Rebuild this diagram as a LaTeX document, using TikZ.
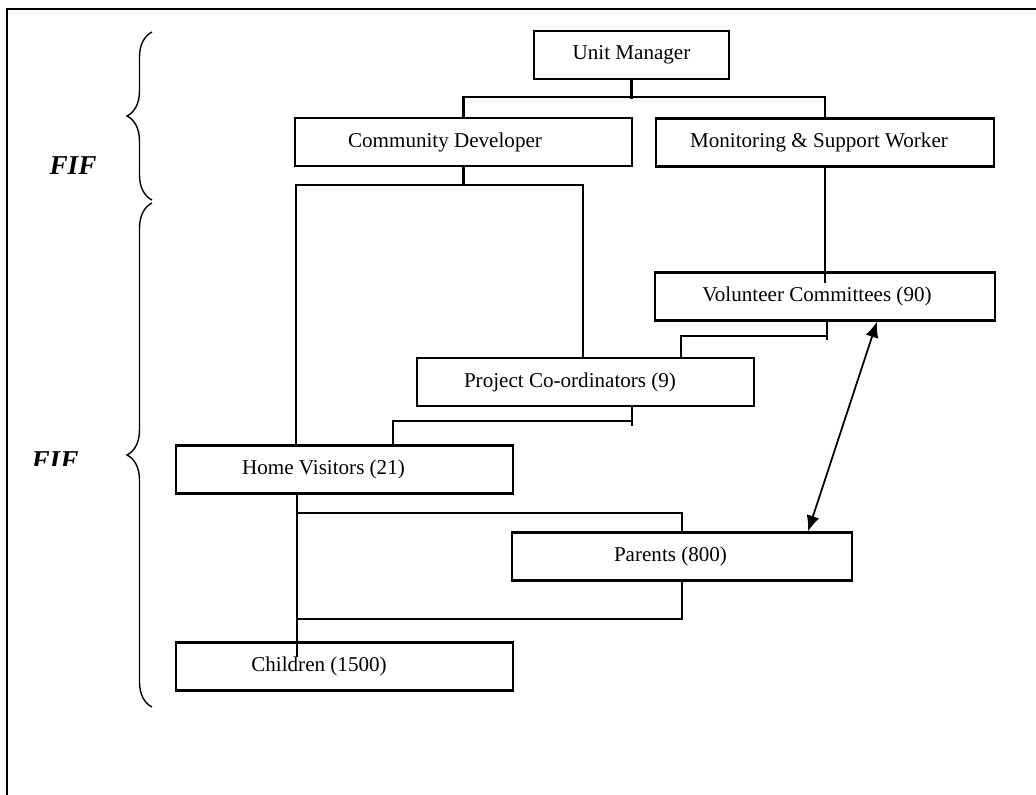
\documentclass[tikz,border=0pt]{standalone}
\usepackage{fontspec}
\setmainfont{Liberation Serif}
\usetikzlibrary{arrows.meta,decorations.pathreplacing}

\tikzset{
    unitbox/.style = {draw, line width=1.2pt, minimum height=0.96cm, inner sep=0pt,
                      font=\fontsize{12}{14}\selectfont},
    fifbrace/.style = {decorate, decoration={brace, amplitude=0.5cm}, line width=0.8pt},
    fiftext/.style = {font=\fontsize{15.5}{18}\selectfont\bfseries\itshape, inner sep=0pt},
    linkarrow/.style = {{Latex[length=9pt,width=7.5pt]}-{Latex[length=9pt,width=7.5pt]}, line width=1pt}
}

\begin{document}
\begin{tikzpicture}[x=0.02cm, y=-0.02cm, line width=1.2pt]
    \useasboundingbox (0,0) rectangle (1036,795);
    % frame (left and top only)
    \draw (7,795) -- (7,9) -- (1036,9);
    % braces on the left
    \draw[fifbrace] (152,200) -- (152,32);
    \draw[fifbrace] (152,707) -- (152,203);
    \node[fiftext] (fif1) at (73,166) {FIF};
    \begin{scope}
        \clip (20,440) rectangle (120,465);
        \node[fiftext] (fif2) at (55,461) {FIF};
    \end{scope}
    % boxes
    \node[unitbox, minimum width=3.9cm] (um) at (631.5,55) {Unit Manager};
    \node[unitbox, minimum width=6.74cm] (cd) at (463.5,142) {Community Developer\hspace*{0.74cm}};
    \node[unitbox, minimum width=6.76cm] (msw) at (825,142.5) {Monitoring \& Support Worker\hspace*{0.24cm}};
    \node[unitbox, minimum width=6.8cm] (vc) at (825,296.5) {Volunteer Committees (90)\hspace*{0.32cm}};
    \node[unitbox, minimum width=6.74cm] (pc) at (585.5,382) {Project Co-ordinators (9)\hspace*{0.62cm}};
    \node[unitbox, minimum width=6.74cm] (hv) at (344.5,469.5) {Home Visitors (21)\hspace*{0.84cm}};
    \node[unitbox, minimum width=6.8cm] (par) at (682,556.5) {Parents (800)\hspace*{0.46cm}};
    \node[unitbox, minimum width=6.74cm] (ch) at (344.5,666.5) {Children (1500)\hspace*{1.02cm}};
    % connectors
    \draw (um.south) -- ++(0,19);
    \draw (cd.north) -- ++(0,-20) -| (msw.north);
    \draw (cd.south) -- ++(0,19);
    \draw (296,0 |- hv.north) |- (583,185) -- (583,0 |- pc.north);
    \draw (msw.south) -- ++(0,115);
    \draw (827,0 |- vc.south) -- ++(0,18);
    \draw (681,0 |- pc.north) |- (827,336);
    \draw (632,0 |- pc.south) -- ++(0,19);
    \draw (393,0 |- hv.north) |- (632,421);
    \draw (297,0 |- hv.south) -- (297,657);
    \draw (297,513) -| (682,0 |- par.north);
    \draw (297,619) -| (682,0 |- par.south);
    \draw[linkarrow] (808,0 |- par.north) -- (877,0 |- vc.south);
\end{tikzpicture}
\end{document}
